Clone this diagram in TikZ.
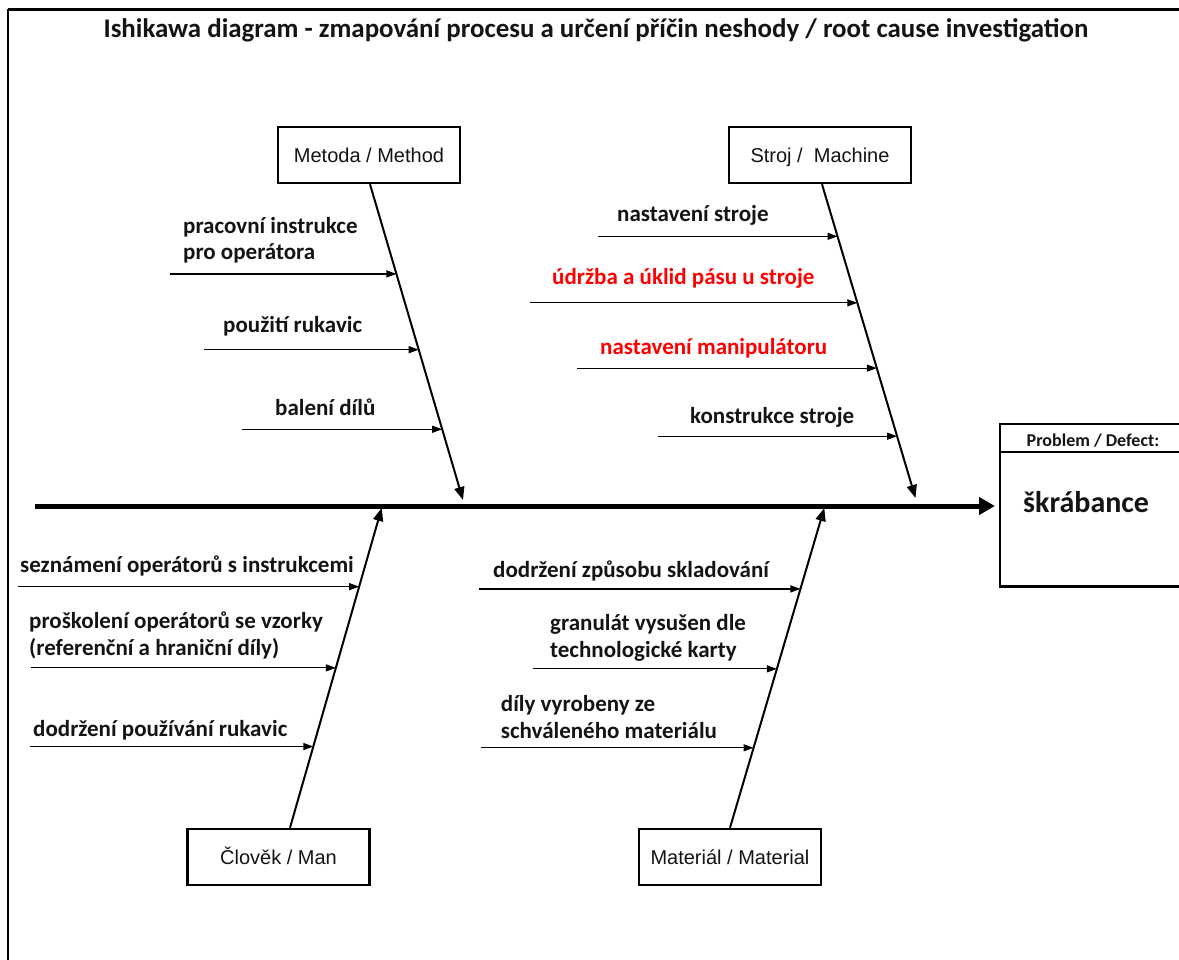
\documentclass[tikz,border=0pt]{standalone}
\usepackage{fontspec}
\setmainfont{Carlito}
\newfontfamily\arialf{Liberation Sans}
\usetikzlibrary{arrows.meta,calc}
\definecolor{txt}{RGB}{20,20,20}
\definecolor{redtxt}{RGB}{255,0,0}
\tikzset{
  catbox/.style={draw, line width=2.5pt, minimum width=182pt, minimum height=56pt, inner sep=0pt,
    text height=16.5pt, text depth=2pt,
    font=\arialf\fontsize{20}{24}\selectfont, text=txt},
  bone/.style={line width=2pt, -{Triangle[length=13pt,width=10pt]}},
  causearrow/.style={line width=1.2pt, -{Triangle[length=10pt,width=7pt]}},
  lbl/.style={font=\bfseries\fontsize{23}{26.5}\selectfont, anchor=base west, align=left, inner sep=0pt, text=txt},
  redlbl/.style={lbl, text=redtxt},
}
\begin{document}
\begin{tikzpicture}[x=1pt,y=-1pt]
\useasboundingbox (0,0) rectangle (1179,960);
\fill[white] (0,0) rectangle (1179,960);
% frame
\draw[line width=3pt] (8,9.5) -- (1185,9.5);
\draw[line width=1.5pt] (8,9.5) -- (8,965);
% title
\node[font=\bfseries\fontsize{26.9}{30}\selectfont, anchor=base, inner sep=0pt, text=txt] (title) at (596,37.5)
  {Ishikawa diagram - zmapování procesu a určení příčin neshody / root cause investigation};
% category boxes
\node[catbox] (metoda) at (369,155) {Metoda / Method};
\node[catbox] (stroj) at (820,155) {Stroj /\ \ Machine};
\node[catbox] (clovek) at (278.5,857) {Člověk / Man};
\node[catbox] (material) at (730,857) {Materiál / Material};
% problem box
\node[minimum width=185pt, minimum height=162pt, inner sep=0pt, anchor=north west] (problem) at (1000,424) {};
\draw[line width=2.5pt] (problem.north east) -- (problem.north west) -- (problem.south west) -- (problem.south east);
\coordinate (hdrL) at (1000,452);
\draw[line width=1.5pt] (hdrL) -- (hdrL -| problem.east);
\node[font=\bfseries\fontsize{18}{21}\selectfont, anchor=base, inner sep=0pt, text=txt] (phead) at (1093,446) {Problem / Defect:};
\node[font=\bfseries\fontsize{30}{36}\selectfont, anchor=base west, inner sep=0pt, text=txt] (pdef) at (1023,512) {škrábance};
% spine
\coordinate (spL) at (35,506);
\draw[line width=5pt, -{Triangle[length=16pt,width=17pt]}, shorten >=5pt] (spL) -- (spL -| problem.west);
% bones
\coordinate (mA) at ($(metoda.south)+(1,0)$);
\coordinate (mB) at (463,500);
\draw[bone] (mA) -- (mB);
\coordinate (sA) at ($(stroj.south)+(2,0)$);
\coordinate (sB) at (915.5,498);
\draw[bone] (sA) -- (sB);
\coordinate (cA) at ($(clovek.north)+(11.5,0)$);
\coordinate (cB) at (381.7,508);
\draw[bone] (cA) -- (cB);
\coordinate (tA) at (material.north);
\coordinate (tB) at (824.3,508);
\draw[bone] (tA) -- (tB);
% points on bones
\coordinate (m1) at ($(mA)!0.284!(mB)$);
\coordinate (m2) at ($(mA)!0.524!(mB)$);
\coordinate (m3) at ($(mA)!0.776!(mB)$);
\coordinate (s1) at ($(sA)!0.166!(sB)$);
\coordinate (s2) at ($(sA)!0.378!(sB)$);
\coordinate (s3) at ($(sA)!0.586!(sB)$);
\coordinate (s4) at ($(sA)!0.803!(sB)$);
\coordinate (c1) at ($(cA)!0.754!(cB)$);
\coordinate (c2) at ($(cA)!0.500!(cB)$);
\coordinate (c3) at ($(cA)!0.254!(cB)$);
\coordinate (t1) at ($(tA)!0.747!(tB)$);
\coordinate (t2) at ($(tA)!0.497!(tB)$);
\coordinate (t3) at ($(tA)!0.250!(tB)$);
% start points
\coordinate (m1s) at (170,0 |- m1);
\coordinate (m2s) at (204,0 |- m2);
\coordinate (m3s) at (242,0 |- m3);
\coordinate (s1s) at (598,0 |- s1);
\coordinate (s2s) at (530,0 |- s2);
\coordinate (s3s) at (577,0 |- s3);
\coordinate (s4s) at (658,0 |- s4);
\coordinate (c1s) at (18,0 |- c1);
\coordinate (c2s) at (31,0 |- c2);
\coordinate (c3s) at (30,0 |- c3);
\coordinate (t1s) at (479,0 |- t1);
\coordinate (t2s) at (532.7,0 |- t2);
\coordinate (t3s) at (480.7,0 |- t3);
\foreach \p in {m1,m2,m3,s1,s2,s3,s4,c1,c2,c3,t1,t2,t3}
  \draw[causearrow] (\p s) -- (\p);
% labels (base = baseline of the last line)
\node[lbl] (lm1) at (183,260) {pracovní instrukce\\pro operátora};
\node[lbl] (lm2) at (223,333) {použití rukavic};
\node[lbl] (lm3) at (275,415) {balení dílů};
\node[lbl] (ls1) at (617,222) {nastavení stroje};
\node[redlbl] (ls2) at (552,285) {údržba a úklid pásu u stroje};
\node[redlbl] (ls3) at (600,354) {nastavení manipulátoru};
\node[lbl] (ls4) at (690,423) {konstrukce stroje};
\node[lbl] (lc1) at (20,572) {seznámení operátorů s instrukcemi};
\node[lbl] (lc2) at (29,655) {proškolení operátorů se vzorky\\(referenční a hraniční díly)};
\node[lbl] (lc3) at (33,736) {dodržení používání rukavic};
\node[lbl] (lt1) at (493,577) {dodržení způsobu skladování};
\node[lbl] (lt2) at (550,657) {granulát vysušen dle\\technologické karty};
\node[lbl] (lt3) at (500.7,738) {díly vyrobeny ze\\schváleného materiálu};
\end{tikzpicture}
\end{document}
